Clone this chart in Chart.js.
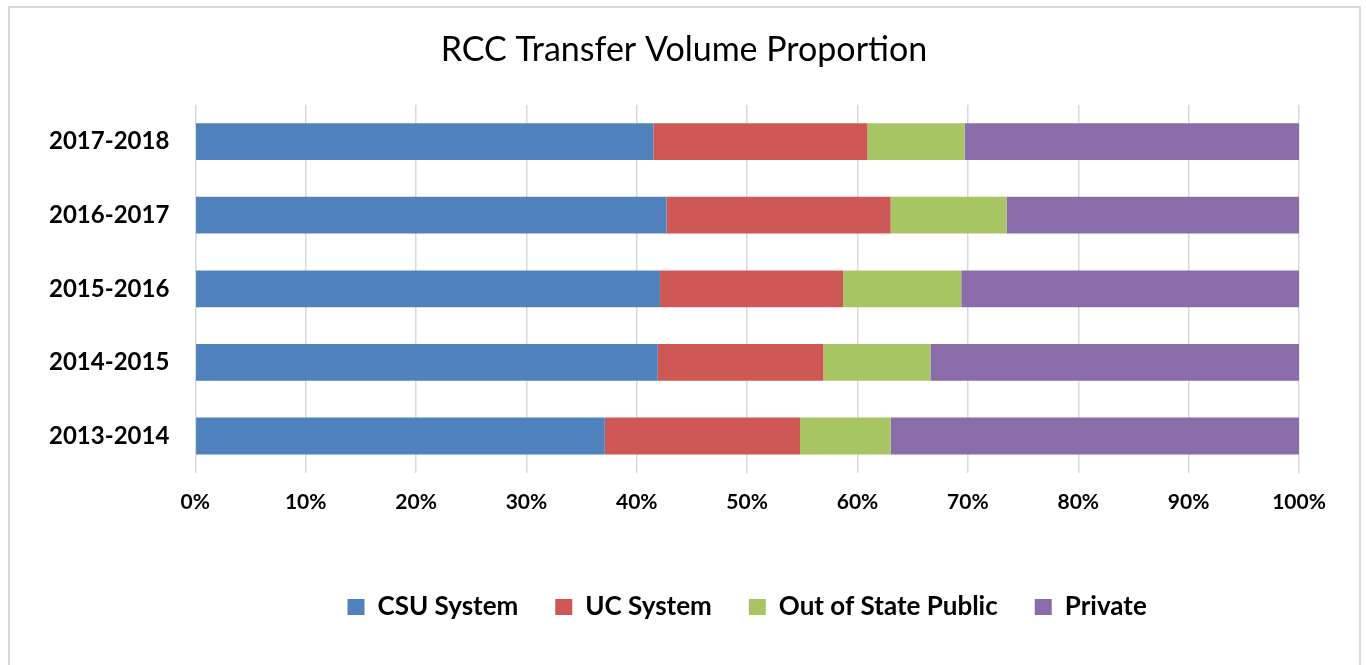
<!DOCTYPE html>
<html>
<head>
<meta charset="utf-8">
<script src="https://cdn.jsdelivr.net/npm/chart.js"></script>
<style>
  html, body { margin: 0; padding: 0; background: #fff; overflow: hidden; }
  #frame {
    position: absolute; left: 8px; top: 6px;
    width: 1353px; height: 720px;
    border: 2px solid #d9d9d9; box-sizing: border-box;
  }
  #wrap { position: relative; width: 1349px; height: 657px; }
</style>
</head>
<body>
<div id="frame"><div id="wrap"><canvas id="transfer-chart"></canvas></div></div>
<script>
// RCC transfer volume share by destination, per academic year (percent)
const years = ['2013-2014', '2014-2015', '2015-2016', '2016-2017', '2017-2018'];
const csuSystem = [37.1, 41.9, 42.1, 42.7, 41.5];
const ucSystem = [17.7, 15.0, 16.6, 20.3, 19.4];
const outOfStatePublic = [8.2, 9.7, 10.7, 10.5, 8.8];
const privateSchools = [37.0, 33.4, 30.6, 26.5, 30.3];
const xTicks = [0, 10, 20, 30, 40, 50, 60, 70, 80, 90, 100];

const fontFamily = 'Lato, "Open Sans", sans-serif';

function makeSeries(label, values, color) {
    return {
        label: label,
        data: values,
        backgroundColor: color,
        borderWidth: 0,
        barPercentage: 0.5,
        categoryPercentage: 1.0
    };
}

const ctx = document.getElementById('transfer-chart');
const chart = new Chart(ctx, {
    type: 'bar',
    data: {
        labels: years,
        datasets: [
            makeSeries('CSU System', csuSystem, '#4f81bd'),
            makeSeries('UC System', ucSystem, '#cd5855'),
            makeSeries('Out of State Public', outOfStatePublic, '#a7c663'),
            makeSeries('Private', privateSchools, '#8a6caa')
        ]
    },
    options: {
        indexAxis: 'y',
        responsive: true,
        maintainAspectRatio: false,
        animation: false,
        layout: {
            padding: { left: 13, right: 14, top: 22, bottom: 35 }
        },
        plugins: {
            title: {
                display: true,
                text: 'RCC Transfer Volume Proportion',
                color: '#000',
                font: { family: fontFamily, size: 34, weight: 'normal' },
                padding: { top: 0, bottom: 34 }
            },
            legend: {
                position: 'bottom',
                fullSize: false,
                labels: {
                    color: '#000',
                    font: { family: fontFamily, size: 26, weight: 'bold' },
                    boxWidth: 17,
                    boxHeight: 16,
                    padding: 37
                }
            },
            tooltip: { enabled: false }
        },
        scales: {
            x: {
                stacked: true,
                min: 0,
                max: 100,
                afterBuildTicks: axis => {
                    axis.ticks = xTicks.map(v => ({ value: v }));
                },
                // leave the empty band between the tick labels and the legend
                afterFit: axis => {
                    axis.height += 25;
                },
                ticks: {
                    color: '#000',
                    font: { family: fontFamily, size: 21, weight: 'bold' },
                    padding: 17,
                    callback: value => value + '%'
                },
                grid: { color: '#d9d9d9', lineWidth: 1.5, drawTicks: false },
                border: { display: false }
            },
            y: {
                stacked: true,
                reverse: true,
                ticks: {
                    color: '#000',
                    font: { family: fontFamily, size: 24, weight: 'bold' },
                    padding: 26
                },
                grid: { display: false, drawTicks: false },
                border: { display: false }
            },
            // empty right-hand strip so the plot stops short of the frame
            yGap: {
                type: 'linear',
                position: 'right',
                ticks: { display: false },
                grid: { display: false, drawTicks: false },
                border: { display: false },
                afterFit: axis => {
                    axis.width = 46;
                }
            }
        }
    }
});
</script>
</body>
</html>
